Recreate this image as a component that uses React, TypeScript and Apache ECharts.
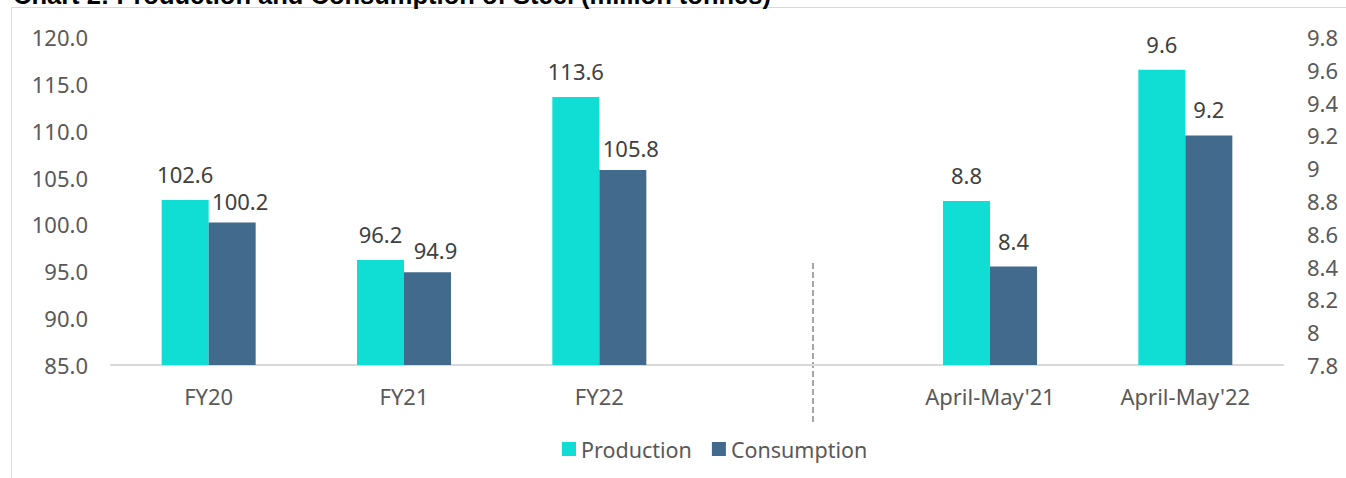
import React, { useEffect, useRef } from "react";
import * as echarts from "echarts";

const categories = ["FY20", "FY21", "FY22", "", "April-May'21", "April-May'22"];
const productionFY = [102.6, 96.2, 113.6, "-", "-", "-"];
const consumptionFY = [100.2, 94.9, 105.8, "-", "-", "-"];
const productionAM = ["-", "-", "-", "-", 8.8, 9.6];
const consumptionAM = ["-", "-", "-", "-", 8.4, 9.2];
const leftAxis = { min: 85, max: 120, interval: 5 };
const rightAxis = { min: 7.8, max: 9.8, interval: 0.2 };
const title = "Chart 2: Production and Consumption of Steel (million tonnes)";

const FONT = "'Noto Sans', sans-serif";
const PROD_COLOR = "#10DDD4";
const CONS_COLOR = "#416A8C";

export default function App() {
  const ref = useRef<HTMLDivElement>(null);
  useEffect(() => {
    if (!ref.current) return;
    const chart = echarts.init(ref.current, null, { renderer: "svg" });
    const labelBase = {
      show: true,
      position: "top",
      fontFamily: FONT,
      fontSize: 22,
      color: "#404040",
    };
    chart.setOption({
      animation: false,
      backgroundColor: "#ffffff",
      textStyle: { fontFamily: FONT },
      grid: { left: 111, right: 63, top: 37, bottom: 113 },
      legend: {
        data: ["Production", "Consumption"],
        left: 557,
        top: 433,
        itemWidth: 14,
        itemHeight: 14,
        itemGap: 20,
        icon: "rect",
        textStyle: { fontFamily: FONT, fontSize: 21.5, color: "#595959" },
      },
      xAxis: [
        {
          type: "category",
          data: categories,
          axisTick: { show: false },
          axisLine: { lineStyle: { color: "#d9d9d9", width: 2 } },
          axisLabel: { fontFamily: FONT, fontSize: 22, color: "#595959", margin: 20 },
        },
        { type: "category", data: categories, show: false },
      ],
      yAxis: [
        {
          type: "value",
          min: leftAxis.min,
          max: leftAxis.max,
          interval: leftAxis.interval,
          splitLine: { show: false },
          axisLine: { show: false },
          axisLabel: {
            fontFamily: FONT,
            fontSize: 22,
            color: "#595959",
            margin: 23,
            formatter: (v: number) => v.toFixed(1),
          },
        },
        {
          type: "value",
          position: "right",
          min: rightAxis.min,
          max: rightAxis.max,
          interval: rightAxis.interval,
          splitLine: { show: false },
          axisLine: { show: false },
          axisLabel: {
            fontFamily: FONT,
            fontSize: 22,
            color: "#595959",
            margin: 24,
            formatter: (v: number) => String(Math.round(v * 10) / 10),
          },
        },
      ],
      series: [
        {
          name: "Production",
          type: "bar",
          xAxisIndex: 0,
          yAxisIndex: 0,
          data: productionFY,
          barWidth: 47,
          barGap: "0%",
          itemStyle: { color: PROD_COLOR },
          label: { ...labelBase, distance: 15 },
        },
        {
          name: "Consumption",
          type: "bar",
          xAxisIndex: 0,
          yAxisIndex: 0,
          data: consumptionFY,
          barWidth: 47,
          barGap: "0%",
          itemStyle: { color: CONS_COLOR },
          label: { ...labelBase, distance: 11, offset: [8, 0] },
        },
        {
          name: "Production",
          type: "bar",
          xAxisIndex: 1,
          yAxisIndex: 1,
          data: productionAM,
          barWidth: 47,
          barGap: "0%",
          itemStyle: { color: PROD_COLOR },
          label: { ...labelBase, distance: 15 },
        },
        {
          name: "Consumption",
          type: "bar",
          xAxisIndex: 1,
          yAxisIndex: 1,
          data: consumptionAM,
          barWidth: 47,
          barGap: "0%",
          itemStyle: { color: CONS_COLOR },
          label: { ...labelBase, distance: 15 },
        },
      ],
      graphic: [
        {
          type: "line",
          shape: { x1: 11.5, y1: 7.5, x2: 11.5, y2: 478 },
          style: { stroke: "#d9d9d9", lineWidth: 1 },
          silent: true,
        },
        {
          type: "line",
          shape: { x1: 11.5, y1: 7.5, x2: 1346, y2: 7.5 },
          style: { stroke: "#d9d9d9", lineWidth: 1 },
          silent: true,
        },
        {
          type: "line",
          shape: { x1: 813, y1: 263, x2: 813, y2: 423 },
          style: { stroke: "#a6a6a6", lineWidth: 2, lineDash: [6, 3] },
          silent: true,
        },
        {
          type: "text",
          left: 13,
          top: -18,
          style: {
            text: title,
            font: "bold 25.5px 'Liberation Sans', Arial, sans-serif",
            fill: "#000000",
          },
          silent: true,
        },
      ],
    });
    return () => chart.dispose();
  }, []);
  return (
    <div
      ref={ref}
      style={{ position: "absolute", left: 0, top: 0, width: 1346, height: 478 }}
    />
  );
}
